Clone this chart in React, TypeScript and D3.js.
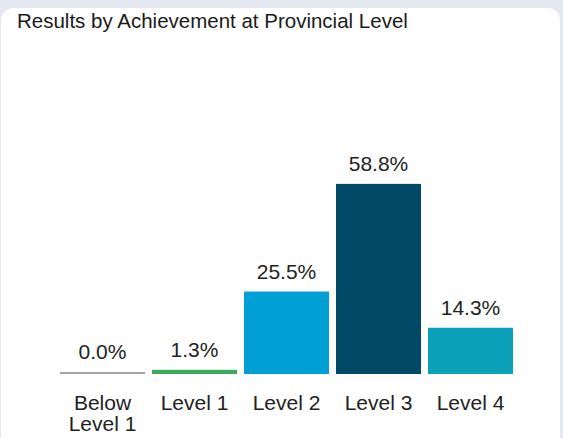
import * as d3 from 'd3';
import { useEffect, useRef } from 'react';

const categories = ['Below Level 1', 'Level 1', 'Level 2', 'Level 3', 'Level 4'];
const values = [0.0, 1.3, 25.5, 58.8, 14.3];
const colors = ['#a3a3a3', '#3dab5c', '#00a0d7', '#004a68', '#0aa1b9'];
const labelLines = [['Below', 'Level 1'], ['Level 1'], ['Level 2'], ['Level 3'], ['Level 4']];
const title = 'Results by Achievement at Provincial Level';

export default function App() {
  const ref = useRef<SVGSVGElement | null>(null);
  useEffect(() => {
    if (!ref.current) return;
    const svg = d3.select(ref.current);
    svg.selectAll('*').remove();
    const width = 563;
    const height = 438;
    const font = "'Liberation Sans', Arial, Helvetica, sans-serif";
    svg.attr('width', width).attr('height', height).attr('viewBox', `0 0 ${width} ${height}`);

    svg.append('rect').attr('width', width).attr('height', height).attr('fill', '#e3e8f1');
    svg.append('rect').attr('x', 1).attr('y', 8).attr('width', 559).attr('height', 445).attr('rx', 12).attr('fill', '#ffffff');

    svg
      .append('text')
      .attr('x', 17)
      .attr('y', 28)
      .attr('font-family', font)
      .attr('font-size', 20.5)
      .attr('fill', '#1a1a1a')
      .text(title);

    const baseY = 374;
    const x = d3.scaleBand<string>().domain(categories).range([56.5, 516.5]).paddingInner(0.076).paddingOuter(0.038);
    const y = d3.scaleLinear().domain([0, 60]).range([baseY, 180]);

    const g = svg.append('g');
    const idx = values.map((_, i) => i);

    g.selectAll('rect.bar')
      .data(idx)
      .enter()
      .append('rect')
      .attr('class', 'bar')
      .attr('x', (i) => x(categories[i]) || 0)
      .attr('width', x.bandwidth())
      .attr('y', (i) => Math.min(y(values[i]), baseY - 2))
      .attr('height', (i) => Math.max(baseY - y(values[i]), 2))
      .attr('fill', (i) => colors[i]);

    g.selectAll('text.val')
      .data(idx)
      .enter()
      .append('text')
      .attr('class', 'val')
      .attr('x', (i) => (x(categories[i]) || 0) + x.bandwidth() / 2)
      .attr('y', (i) => Math.min(y(values[i]), baseY - 2) - 13)
      .attr('text-anchor', 'middle')
      .attr('font-family', font)
      .attr('font-size', 21)
      .attr('fill', '#222222')
      .text((i) => `${values[i].toFixed(1)}%`);

    const lab = g
      .selectAll('text.cat')
      .data(idx)
      .enter()
      .append('text')
      .attr('class', 'cat')
      .attr('text-anchor', 'middle')
      .attr('font-family', font)
      .attr('font-size', 21)
      .attr('fill', '#222222');
    lab.each(function (i) {
      const t = d3.select(this);
      labelLines[i].forEach((line, k) => {
        t.append('tspan')
          .attr('x', (x(categories[i]) || 0) + x.bandwidth() / 2)
          .attr('y', 410 + k * 21)
          .text(line);
      });
    });
  }, []);

  return (
    <div style={{ position: 'absolute', left: 0, top: 0 }}>
      <svg ref={ref} style={{ display: 'block' }} />
    </div>
  );
}
